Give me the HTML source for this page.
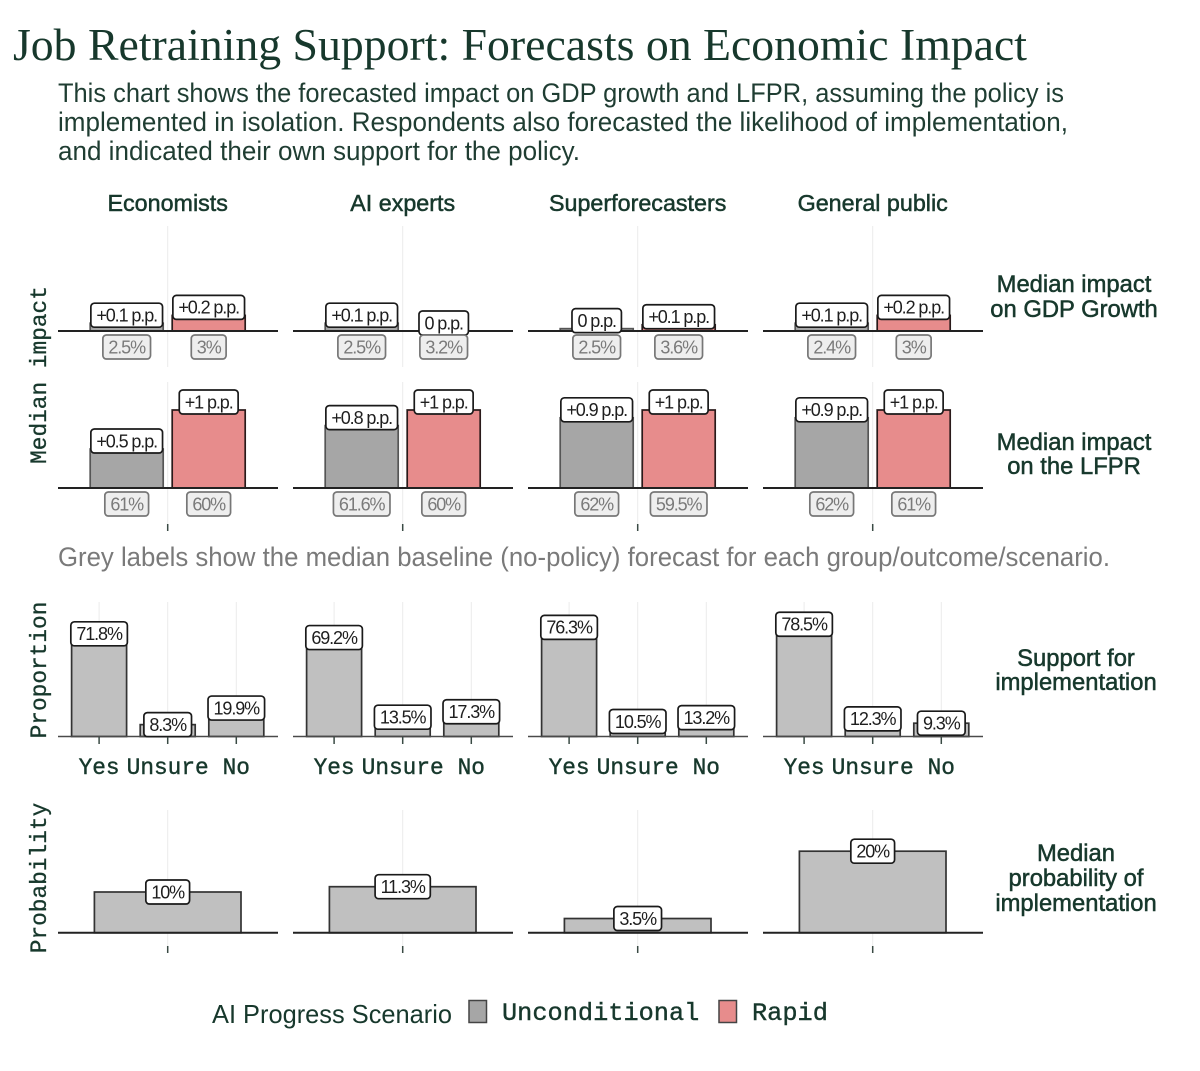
<!DOCTYPE html>
<html>
<head>
<meta charset="utf-8">
<title>Job Retraining Support: Forecasts on Economic Impact</title>
<style>
html,body{margin:0;padding:0;background:#fff;}
svg{display:block;}
text{font-family:"Liberation Sans",sans-serif;}
.mono{font-family:"Liberation Mono",monospace;fill:#17382c;}
.head{fill:#17382c;stroke:#17382c;stroke-width:.5px;font-size:23.8px;text-anchor:middle;}
.sub{fill:#1f3d32;font-size:27px;}
</style>
</head>
<body>
<svg id="chart" xmlns="http://www.w3.org/2000/svg" width="1200" height="1071" viewBox="0 0 1200 1071">
  <rect x="0" y="0" width="1200" height="1071" fill="#fff"/>
  <text x="13" y="60" font-size="45" textLength="1014" lengthAdjust="spacingAndGlyphs" style="font-family:'Liberation Serif',serif;fill:#17382c">Job Retraining Support: Forecasts on Economic Impact</text>
  <text class="sub" x="58" y="102" textLength="1006" lengthAdjust="spacingAndGlyphs">This chart shows the forecasted impact on GDP growth and LFPR, assuming the policy is</text>
  <text class="sub" x="58" y="131" textLength="1010" lengthAdjust="spacingAndGlyphs">implemented in isolation. Respondents also forecasted the likelihood of implementation,</text>
  <text class="sub" x="58" y="160" textLength="522" lengthAdjust="spacingAndGlyphs">and indicated their own support for the policy.</text>
  <text x="58" y="566" font-size="27" fill="#7a7a7a" textLength="1052" lengthAdjust="spacingAndGlyphs">Grey labels show the median baseline (no-policy) forecast for each group/outcome/scenario.</text>

  <text class="head" x="1074" y="292">Median impact</text>
  <text class="head" x="1074" y="317">on GDP Growth</text>
  <text class="head" x="1074" y="450">Median impact</text>
  <text class="head" x="1074" y="474">on the LFPR</text>
  <text class="head" x="1076" y="666">Support for</text>
  <text class="head" x="1076" y="690">implementation</text>
  <text class="head" x="1076" y="861">Median</text>
  <text class="head" x="1076" y="886">probability of</text>
  <text class="head" x="1076" y="911">implementation</text>

  <text class="mono" font-size="22.8" stroke="#17382c" stroke-width=".3" text-anchor="middle" transform="translate(46,375) rotate(-90)">Median impact</text>
  <text class="mono" font-size="22.8" stroke="#17382c" stroke-width=".3" text-anchor="middle" transform="translate(46,670) rotate(-90)">Proportion</text>
  <text class="mono" font-size="22.8" stroke="#17382c" stroke-width=".3" text-anchor="middle" transform="translate(46,878) rotate(-90)">Probability</text>

  <g id="plots"></g>

  <g>
    <text x="212" y="1023" font-size="26" fill="#17382c" textLength="240" lengthAdjust="spacingAndGlyphs">AI Progress Scenario</text>
    <rect x="469" y="1000.5" width="17.5" height="22" fill="#a6a6a6" stroke="#444" stroke-width="1.5"/>
    <text class="mono" x="502" y="1020" font-size="25.3" stroke="#17382c" stroke-width=".4">Unconditional</text>
    <rect x="719" y="1000.5" width="17.5" height="22" fill="#e78c8c" stroke="#444" stroke-width="1.5"/>
    <text class="mono" x="752" y="1020" font-size="25.3" stroke="#17382c" stroke-width=".4">Rapid</text>
  </g>
</svg>
<script>
const groups = ['Economists', 'AI experts', 'Superforecasters', 'General public'];
const supportCategories = ['Yes', 'Unsure', 'No'];

const gdpUnconditional = [0.1, 0.1, 0.03, 0.1];
const gdpRapid = [0.2, 0, 0.08, 0.2];
const gdpUnconditionalLabels = ['+0.1 p.p.', '+0.1 p.p.', '0 p.p.', '+0.1 p.p.'];
const gdpRapidLabels = ['+0.2 p.p.', '0 p.p.', '+0.1 p.p.', '+0.2 p.p.'];
const gdpBaselineUnconditional = ['2.5%', '2.5%', '2.5%', '2.4%'];
const gdpBaselineRapid = ['3%', '3.2%', '3.6%', '3%'];

const lfprUnconditional = [0.5, 0.8, 0.9, 0.9];
const lfprRapid = [1, 1, 1, 1];
const lfprUnconditionalLabels = ['+0.5 p.p.', '+0.8 p.p.', '+0.9 p.p.', '+0.9 p.p.'];
const lfprRapidLabels = ['+1 p.p.', '+1 p.p.', '+1 p.p.', '+1 p.p.'];
const lfprBaselineUnconditional = ['61%', '61.6%', '62%', '62%'];
const lfprBaselineRapid = ['60%', '60%', '59.5%', '61%'];

const supportYes = [71.8, 69.2, 76.3, 78.5];
const supportUnsure = [8.3, 13.5, 10.5, 12.3];
const supportNo = [19.9, 17.3, 13.2, 9.3];

const implementationProbability = [10, 11.3, 3.5, 20];

const NS = 'http://www.w3.org/2000/svg';
const plots = document.getElementById('plots');
const panelLeft = i => 58 + 235 * i;
const panelCenter = i => 167.7 + 235 * i;
const yImpactGdp = v => 331 - v * 78;
const yImpactLfpr = v => 488 - v * 78;
const ySupport = v => 736.5 - v * 1.43;
const yProbability = v => 932.8 - v * 4.08;
const slug = s => s.toLowerCase().replace(/[^a-z0-9]+/g, '-');

function make(tag, attrs, text) {
  const el = document.createElementNS(NS, tag);
  for (const k in attrs) el.setAttribute(k, attrs[k]);
  if (text !== undefined) el.textContent = text;
  plots.appendChild(el);
  return el;
}
function gridLine(x, y1, y2, name) {
  const el = make('line', {x1: x, x2: x, y1: y1, y2: y2, stroke: '#ebebeb', 'stroke-width': 1});
  
  
}
function tick(x, y1, y2, name) {
  const el = make('line', {x1: x, x2: x, y1: y1, y2: y2, stroke: '#3a4a44', 'stroke-width': 1.5});
  
  
}
function axisLine(i, y, width, color, name) {
  const el = make('line', {x1: panelLeft(i), x2: panelLeft(i) + 220, y1: y, y2: y, stroke: color, 'stroke-width': width});
  
  
}
function bar(x, w, top, base, fill, stroke, name) {
  const el = make('rect', {x: x, y: top, width: w, height: Math.max(0, base - top), fill: fill, stroke: stroke, 'stroke-width': 1.7});
  
  
}
function label(cx, cy, str, grey, name) {
  const box = make('rect', {y: cy - 12, height: 24, rx: 3.5, ry: 3.5,
    fill: grey ? '#eeeeee' : '#ffffff', stroke: grey ? '#777' : '#1a1a1a', 'stroke-width': 1.7});
  
  
  const t = make('text', {x: cx, y: cy + 6.3, 'text-anchor': 'middle', 'font-size': 18,
    'letter-spacing': '-1.1', fill: grey ? '#7a7a7a' : '#1e1e1e'}, str);
  
  
  const w = t.getComputedTextLength() + 11;
  box.setAttribute('x', cx - w / 2);
  box.setAttribute('width', w);
}

groups.forEach((g, i) => {
  const c = panelCenter(i);
  const id = slug(g);

  const title = make('text', {x: c, y: 211, 'text-anchor': 'middle', 'font-size': 23.3,
    fill: '#17382c', stroke: '#17382c', 'stroke-width': 0.5}, g);
  
  

  /* GDP row */
  gridLine(c, 226, 367, 'grid-gdp-' + id);
  bar(c - 77.5, 73, yImpactGdp(gdpUnconditional[i]), 331, '#a6a6a6', '#555', 'bar-gdp-unconditional-' + id);
  bar(c + 4.5, 73, yImpactGdp(gdpRapid[i]), 331, '#e78c8c', '#2a1a1a', 'bar-gdp-rapid-' + id);
  axisLine(i, 331, 2, '#222', 'axis-gdp-' + id);
  label(c - 41, yImpactGdp(gdpUnconditional[i]) - 8, gdpUnconditionalLabels[i], false, 'label-gdp-unconditional-' + id);
  label(c + 41, yImpactGdp(gdpRapid[i]) - 8, gdpRapidLabels[i], false, 'label-gdp-rapid-' + id);
  label(c - 41, 347, gdpBaselineUnconditional[i], true, 'baseline-gdp-unconditional-' + id);
  label(c + 41, 347, gdpBaselineRapid[i], true, 'baseline-gdp-rapid-' + id);

  /* LFPR row */
  gridLine(c, 382, 524, 'grid-lfpr-' + id);
  bar(c - 77.5, 73, yImpactLfpr(lfprUnconditional[i]), 488, '#a6a6a6', '#555', 'bar-lfpr-unconditional-' + id);
  bar(c + 4.5, 73, yImpactLfpr(lfprRapid[i]), 488, '#e78c8c', '#2a1a1a', 'bar-lfpr-rapid-' + id);
  axisLine(i, 488, 2, '#222', 'axis-lfpr-' + id);
  label(c - 41, yImpactLfpr(lfprUnconditional[i]) - 8, lfprUnconditionalLabels[i], false, 'label-lfpr-unconditional-' + id);
  label(c + 41, yImpactLfpr(lfprRapid[i]) - 8, lfprRapidLabels[i], false, 'label-lfpr-rapid-' + id);
  label(c - 41, 504, lfprBaselineUnconditional[i], true, 'baseline-lfpr-unconditional-' + id);
  label(c + 41, 504, lfprBaselineRapid[i], true, 'baseline-lfpr-rapid-' + id);
  tick(c, 524, 531, 'tick-lfpr-' + id);

  /* Support row */
  const supportValues = [supportYes[i], supportUnsure[i], supportNo[i]];
  supportCategories.forEach((cat, j) => {
    const x = c + (j - 1) * 68.6;
    gridLine(x, 602, 736, 'grid-support-' + id + '-' + slug(cat));
    bar(x - 27.5, 55, ySupport(supportValues[j]), 736.5, '#c0c0c0', '#333', 'bar-support-' + id + '-' + slug(cat));
  });
  axisLine(i, 736.5, 1.5, '#4a4a4a', 'axis-support-' + id);
  supportCategories.forEach((cat, j) => {
    const x = c + (j - 1) * 68.6;
    label(x, ySupport(supportValues[j]), supportValues[j].toFixed(1) + '%', false, 'label-support-' + id + '-' + slug(cat));
    tick(x, 737, 744, 'tick-support-' + id + '-' + slug(cat));
    const t = make('text', {x: x, y: 774, 'text-anchor': 'middle', 'font-size': 22.8, 'class': 'mono',
      stroke: '#17382c', 'stroke-width': 0.4}, cat);
    
    
  });

  /* Probability row */
  gridLine(c, 810, 946, 'grid-probability-' + id);
  bar(c - 73.3, 146.6, yProbability(implementationProbability[i]), 932.8, '#c0c0c0', '#333', 'bar-probability-' + id);
  axisLine(i, 932.8, 2, '#222', 'axis-probability-' + id);
  label(c, yProbability(implementationProbability[i]), implementationProbability[i] + '%', false, 'label-probability-' + id);
  tick(c, 946, 953, 'tick-probability-' + id);
});
</script>
</body>
</html>
